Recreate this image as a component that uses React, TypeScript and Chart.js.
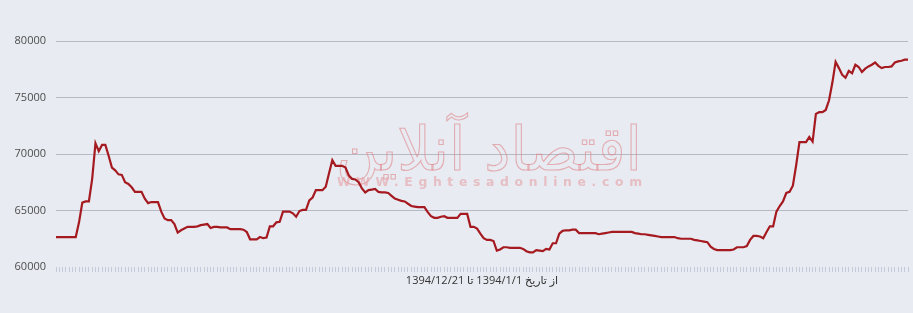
import React, { useEffect, useRef } from "react";
import { Chart, registerables } from "chart.js";

Chart.register(...registerables);

// Daily price series, 1394/1/1 .. 1394/12/21
const prices: number[] = [
  62650, 62650, 62650, 62650, 62650, 62650, 62650, 63950, 65700, 65800,
  65800, 67800, 70950, 70250, 70800, 70800, 69850, 68800, 68550, 68200,
  68150, 67500, 67350, 67050, 66650, 66650, 66650, 66050, 65650, 65750,
  65750, 65750, 64900, 64300, 64150, 64150, 63800, 63050, 63250, 63400,
  63550, 63550, 63550, 63600, 63700, 63750, 63800, 63450, 63550, 63550,
  63500, 63500, 63500, 63350, 63350, 63350, 63350, 63300, 63100, 62450,
  62450, 62450, 62650, 62550, 62600, 63600, 63600, 63950, 64000, 64900,
  64900, 64900, 64750, 64450, 64950, 65050, 65050, 65900, 66150, 66800,
  66800, 66800, 67100, 68300, 69450, 68950, 68950, 68950, 68800, 68100,
  67800, 67750, 67500, 66950, 66600, 66800, 66850, 66900, 66650, 66600,
  66600, 66550, 66300, 66050, 65950, 65850, 65800, 65600, 65400, 65350,
  65300, 65300, 65300, 64850, 64500, 64350, 64350, 64450, 64500, 64350,
  64350, 64350, 64350, 64700, 64700, 64700, 63550, 63550, 63400, 62950,
  62550, 62400, 62400, 62300, 61450, 61550, 61750, 61750, 61700, 61700,
  61700, 61700, 61600, 61400, 61300, 61300, 61500, 61450, 61400, 61600,
  61550, 62100, 62100, 62950, 63200, 63250, 63250, 63300, 63300, 63000,
  63000, 63000, 63000, 63000, 63000, 62900, 62950, 63000, 63050, 63100,
  63100, 63100, 63100, 63100, 63100, 63100, 63000, 62950, 62900, 62900,
  62850, 62800, 62750, 62700, 62650, 62650, 62650, 62650, 62650, 62550,
  62500, 62500, 62500, 62500, 62400, 62350, 62300, 62250, 62200, 61800,
  61600, 61500, 61500, 61500, 61500, 61500, 61550, 61750, 61750, 61750,
  61850, 62400, 62750, 62750, 62700, 62550, 63100, 63600, 63600, 64900,
  65400, 65800, 66550, 66650, 67200, 69000, 71050, 71050, 71050, 71500,
  71100, 73550, 73700, 73700, 73900, 74750, 76300, 78150, 77600, 77000,
  76750, 77350, 77150, 77900, 77700, 77250, 77550, 77750, 77900, 78100,
  77800, 77600, 77700, 77700, 77750, 78100, 78200, 78250, 78350, 78350,
];

const dayLabels: string[] = prices.map((_, i) => String(i + 1));

const yMin = 60000;
const yMax = 80000;
const yStep = 5000;

const axisTitle = "از تاریخ 1394/1/1 تا 1394/12/21";
const watermarkFa = "اقتصاد آنلاین";
const watermarkEn = "WWW.Eghtesadonline.com";

const watermarkPlugin = {
  id: "watermark",
  beforeDatasetsDraw(chart: any) {
    const ctx: CanvasRenderingContext2D = chart.ctx;
    ctx.save();
    // Persian logo text, outlined
    ctx.font = "72px 'DejaVu Sans', sans-serif";
    ctx.textAlign = "center";
    ctx.textBaseline = "alphabetic";
    const w = ctx.measureText(watermarkFa).width || 1;
    ctx.translate(489, 170);
    ctx.scale(306 / w, 0.85);
    ctx.strokeStyle = "rgba(222,130,135,0.6)";
    ctx.lineWidth = 1.3;
    ctx.strokeText(watermarkFa, 0, 0);
    ctx.restore();

    // Site address
    ctx.save();
    ctx.font = "bold 13px 'DejaVu Sans', sans-serif";
    (ctx as any).letterSpacing = "6px";
    ctx.textAlign = "left";
    ctx.textBaseline = "middle";
    const w2 = ctx.measureText(watermarkEn).width - 6;
    ctx.translate(337, 183);
    ctx.scale(305 / w2, 1);
    ctx.fillStyle = "rgba(228,160,165,0.6)";
    ctx.fillText(watermarkEn, 0, 0);
    ctx.restore();
  },
};

export default function App() {
  const canvasRef = useRef<HTMLCanvasElement | null>(null);

  useEffect(() => {
    const canvas = canvasRef.current;
    if (!canvas) return;
    const font = { family: "'Open Sans', 'DejaVu Sans', sans-serif", size: 11 };
    const chart = new Chart(canvas, {
      type: "line",
      data: {
        labels: dayLabels,
        datasets: [
          {
            data: prices,
            borderColor: "#a51a20",
            borderWidth: 2.2,
            pointRadius: 0,
            pointHoverRadius: 0,
            tension: 0,
            fill: false,
          },
        ],
      },
      options: {
        responsive: false,
        animation: false,
        layout: { padding: { left: 8, right: 5, top: 41, bottom: 0 } },
        plugins: {
          legend: { display: false },
          tooltip: { enabled: false },
        },
        scales: {
          x: {
            grid: {
              display: true,
              drawOnChartArea: false,
              drawTicks: true,
              tickLength: 5,
              color: "#c3cad9",
            },
            border: { display: false },
            ticks: { display: false, autoSkip: false },
            title: {
              display: true,
              text: axisTitle,
              color: "#333333",
              font,
              padding: { top: 0, bottom: 26 },
            },
            afterFit: (s: any) => {
              s.height = 46;
            },
          },
          y: {
            min: yMin,
            max: yMax,
            ticks: {
              stepSize: yStep,
              color: "#4d4d4d",
              font,
              padding: 10,
              callback: (v: any) => String(v),
            },
            grid: {
              drawTicks: false,
              lineWidth: 1,
              color: (c: any) =>
                c.tick && c.tick.value === yMin ? "rgba(0,0,0,0)" : "#b6bac5",
            },
            border: { display: false },
            afterFit: (s: any) => {
              s.width = 48;
            },
          },
        },
      },
      plugins: [watermarkPlugin],
    } as any);
    return () => chart.destroy();
  }, []);

  return (
    <div
      style={{
        position: "fixed",
        left: 0,
        top: 0,
        width: 913,
        height: 313,
        background: "#e8ebf1",
      }}
    >
      <canvas
        ref={canvasRef}
        width={913}
        height={313}
        dir="rtl"
        style={{ display: "block", width: 913, height: 313 }}
      />
    </div>
  );
}
